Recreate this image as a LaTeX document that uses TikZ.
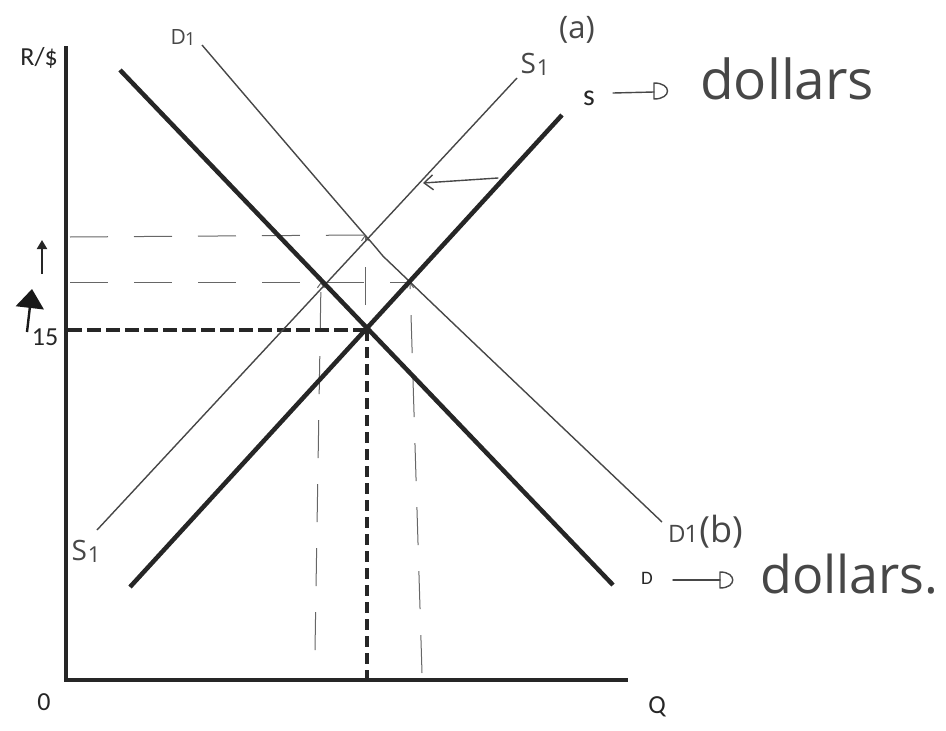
\documentclass[tikz,border=0pt]{standalone}
\usepackage{fontspec}
\setmainfont{Carlito}
\newfontfamily\hand{Open Sans}
\usetikzlibrary{arrows.meta}
\begin{document}
\begin{tikzpicture}[x=1pt,y=-1pt,
  axisline/.style={line width=4pt, draw=black!85, line cap=rect},
  thickcurve/.style={line width=4.5pt, draw=black!85},
  thincurve/.style={line width=1.4pt, draw=black!72},
  eqdash/.style={line width=3.5pt, draw=black!85, dash pattern=on 14pt off 5pt},
  eqdashv/.style={line width=3.5pt, draw=black!85, dash pattern=on 11pt off 6pt},
  guide/.style={line width=1pt, draw=black!60, dash pattern=on 38pt off 26pt},
  printed/.style={font=\fontsize{26}{26}\selectfont, text=black!85, inner sep=0pt},
  handlbl/.style={font=\hand\fontsize{28}{28}\selectfont, text=black!72, inner sep=0pt},
  bighand/.style={font=\hand\fontsize{55}{55}\selectfont, text=black!72, inner sep=0pt},
  handpen/.style={line width=1.4pt, draw=black!72, line cap=round, line join=round},
]
\useasboundingbox (0,0) rectangle (946,731);
% key points
\coordinate (O) at (66,680);
\coordinate (ytop) at (66,48);
\coordinate (xend) at (626,680);
\coordinate (Dtop) at (120,70);
\coordinate (Dbot) at (613,585);
\coordinate (Sbot) at (130,587);
\coordinate (Stop) at (562,115);
\coordinate (S1bot) at (97,530);
\coordinate (S1top) at (517,78);
\coordinate (D1top) at (202,45);
\coordinate (D1bot) at (662,522);
\coordinate (E) at (367,330);
\coordinate (A) at (365,235);
\coordinate (B) at (321,282);
\coordinate (C) at (410,282);
% axes
\draw[axisline] (ytop) -- (O) -- (xend);
% guide lines
\coordinate (hA) at (70,237);
\coordinate (hC) at (70,282);
\draw[guide] (hA) -- (A);
\draw[guide] (hC) -- (C);
\coordinate (Bb) at (315,650);
\coordinate (Cb) at (422,673);
\coordinate (Ab) at (365,305);
\draw[guide, -{Straight Barb[length=5pt,width=7pt]}] (Bb) -- (B);
\draw[guide, -{Straight Barb[length=5pt,width=7pt]}] (Cb) -- (C);
\draw[guide, -{Straight Barb[length=5pt,width=7pt]}] (Ab) -- (A);
% equilibrium dashes
\coordinate (E15) at (68,330);
\coordinate (EQ) at (367,678);
\draw[eqdash] (E15) -- (E);
\draw[eqdashv] (E) -- (EQ);
% curves
\draw[thincurve] (S1bot) -- (S1top);
\draw[thincurve] plot[smooth, tension=0.5] coordinates {(D1top) (A) (C) (D1bot)};
\draw[thickcurve] (Dtop) -- (Dbot);
\draw[thickcurve] (Sbot) -- (Stop);
% shift arrow
\coordinate (shR) at (498,178);
\coordinate (shL) at (423,183);
\draw[handpen, -{Straight Barb[length=9pt,width=15pt]}] (shR) -- (shL);
% left arrows
\coordinate (ar1a) at (42,274);
\coordinate (ar1b) at (42,240);
\draw[line width=2pt, draw=black!85, -{Triangle[length=9pt,width=10pt]}] (ar1a) -- (ar1b);
\coordinate (ar2a) at (27,332);
\coordinate (ar2b) at (32,289);
\draw[line width=2.4pt, draw=black!90, -{Triangle[length=19pt,width=28pt]}] (ar2a) -- (ar2b);
% printed labels
\node[printed, anchor=east] (ylab) at (58,58) {R/\$};
\node[printed] (zero) at (44,702) {0};
\node[printed] (qlab) at (657,707) {Q};
\node[printed] (fifteen) at (45,337) {15};
\node[printed, font=\fontsize{30}{30}\selectfont] (slab) at (589,98) {s};
\node[printed, font=\fontsize{19}{19}\selectfont] (dlab) at (647,578) {D};
% handwritten labels
\node[handlbl, font=\hand\fontsize{21}{21}\selectfont] (D1lab) at (183,38) {D\kern-1pt\raisebox{-1pt}{\fontsize{18}{18}\selectfont 1}};
\node[handlbl, font=\hand\fontsize{31}{31}\selectfont] (alab) at (577,30) {(a)};
\node[handlbl] (S1lab) at (535,64) {S\kern1pt\raisebox{-2pt}{\fontsize{22}{22}\selectfont 1}};
\node[handlbl] (S1lab2) at (86,551) {S\kern1pt\raisebox{-2pt}{\fontsize{22}{22}\selectfont 1}};
\node[handlbl, anchor=base west] (D1blab) at (668,542) {\fontsize{24}{24}\selectfont D\kern-1pt1\kern1pt\fontsize{36}{36}\selectfont(b)};
\node[bighand, anchor=base west] (dollarsS) at (700,99) {dollars};
\node[bighand, font=\hand\fontsize{52}{52}\selectfont, anchor=base west] (dollarsD) at (760,593) {dollars.};
% hand arrows with D-shaped heads
\coordinate (sa1) at (613,93);
\coordinate (sa2) at (654,92);
\draw[handpen] (sa1) -- (sa2);
\draw[handpen] (654,83) -- (654,99) .. controls (672,99) and (672,83) .. cycle;
\coordinate (da1) at (673,580);
\coordinate (da2) at (720,580);
\draw[handpen] (da1) -- (da2);
\draw[handpen] (720,572) -- (720,588) .. controls (737,588) and (737,572) .. cycle;
\end{tikzpicture}
\end{document}
